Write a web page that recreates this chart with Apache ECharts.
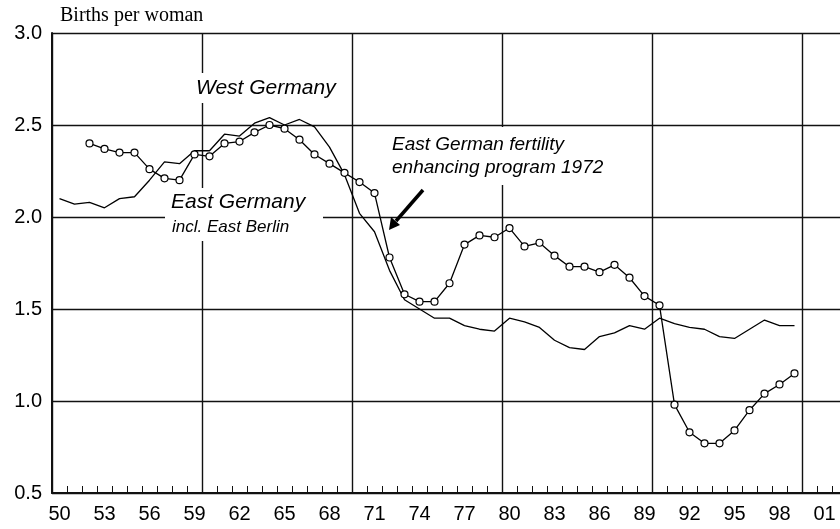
<!DOCTYPE html>
<html>
<head>
<meta charset="utf-8">
<script src="https://cdn.jsdelivr.net/npm/echarts@6/dist/echarts.min.js"></script>
<style>
  html, body { margin: 0; padding: 0; background: #fff; }
  #chart { width: 840px; height: 529px; }
</style>
</head>
<body>
<div id="chart"></div>
<script>
const years = ['1950','1951','1952','1953','1954','1955','1956','1957','1958','1959',
  '1960','1961','1962','1963','1964','1965','1966','1967','1968','1969',
  '1970','1971','1972','1973','1974','1975','1976','1977','1978','1979',
  '1980','1981','1982','1983','1984','1985','1986','1987','1988','1989',
  '1990','1991','1992','1993','1994','1995','1996','1997','1998','1999',
  '2000','2001','2002'];

// West Germany, 1950-1999
const westValues = [2.10, 2.07, 2.08, 2.05, 2.10, 2.11, 2.20, 2.30, 2.29, 2.36,
  2.36, 2.45, 2.44, 2.51, 2.54, 2.50, 2.53, 2.49, 2.38, 2.23,
  2.02, 1.92, 1.71, 1.55, 1.50, 1.45, 1.45, 1.41, 1.39, 1.38,
  1.45, 1.43, 1.40, 1.33, 1.29, 1.28, 1.35, 1.37, 1.41, 1.39,
  1.45, 1.42, 1.40, 1.39, 1.35, 1.34, 1.39, 1.44, 1.41, 1.41];

// East Germany incl. East Berlin, 1952-1999
const eastStart = 2;
const eastValues = [2.40, 2.37, 2.35, 2.35, 2.26, 2.21, 2.20, 2.34,
  2.33, 2.40, 2.41, 2.46, 2.50, 2.48, 2.42, 2.34, 2.29, 2.24,
  2.19, 2.13, 1.78, 1.58, 1.54, 1.54, 1.64, 1.85, 1.90, 1.89,
  1.94, 1.84, 1.86, 1.79, 1.73, 1.73, 1.70, 1.74, 1.67, 1.57,
  1.52, 0.98, 0.83, 0.77, 0.77, 0.84, 0.95, 1.04, 1.09, 1.15];

const yTicks = [0.5, 1.0, 1.5, 2.0, 2.5, 3.0];

const eastData = eastValues.map((v, i) => [years[eastStart + i], v]);

const chart = echarts.init(document.getElementById('chart'));
const sans = 'Liberation Sans, Arial, Helvetica, sans-serif';
const ink = '#111';

const option = {
  backgroundColor: '#fff',
  animation: false,
  grid: { left: 52, top: 33, width: 795, height: 460, outerBoundsMode: 'none' },
  xAxis: {
    type: 'category',
    data: years,
    boundaryGap: true,
    axisLine: { lineStyle: { color: ink, width: 2 } },
    axisTick: { show: true, inside: true, length: 7, interval: 0, lineStyle: { color: ink, width: 1 } },
    axisLabel: {
      interval: 2, margin: 11, color: '#000', fontFamily: sans, fontSize: 20,
      formatter: v => v.slice(2)
    },
    splitLine: { show: true, interval: 9, lineStyle: { color: ink, width: 1.4 } }
  },
  yAxis: {
    type: 'value',
    min: yTicks[0],
    max: yTicks[yTicks.length - 1],
    interval: 0.5,
    axisLine: { show: true, lineStyle: { color: ink, width: 2 } },
    axisTick: { show: false },
    axisLabel: { margin: 10, color: '#000', fontFamily: sans, fontSize: 20, formatter: v => v.toFixed(1) },
    splitLine: { show: true, lineStyle: { color: ink, width: 1.4 } }
  },
  series: [
    {
      name: 'West Germany',
      type: 'line',
      data: westValues,
      symbol: 'none',
      lineStyle: { color: '#000', width: 1.3 },
      z: 3
    },
    {
      name: 'East Germany',
      type: 'line',
      data: eastData,
      symbol: 'circle',
      symbolSize: 7,
      itemStyle: { color: '#fff', borderColor: '#000', borderWidth: 1.2 },
      lineStyle: { color: '#000', width: 1.3 },
      z: 4
    }
  ],
  graphic: [
    { type: 'text', z: 5, style: { text: 'Births per woman', x: 60, y: 16, verticalAlign: 'middle',
      font: '20px "Liberation Serif", "Times New Roman", serif', fill: '#000' } },
    // white boxes behind the labels
    { type: 'rect', z: 1, shape: { x: 190, y: 73, width: 156, height: 30 }, style: { fill: '#fff' } },
    { type: 'rect', z: 1, shape: { x: 165, y: 188, width: 158, height: 53 }, style: { fill: '#fff' } },
    { type: 'rect', z: 1, shape: { x: 388, y: 127, width: 224, height: 58 }, style: { fill: '#fff' } },
    { type: 'text', z: 5, style: { text: 'West Germany', x: 196, y: 88, verticalAlign: 'middle',
      font: 'italic 21px ' + sans, fill: '#000' } },
    { type: 'text', z: 5, style: { text: 'East Germany', x: 171, y: 202, verticalAlign: 'middle',
      font: 'italic 21px ' + sans, fill: '#000' } },
    { type: 'text', z: 5, style: { text: 'incl. East Berlin', x: 172, y: 227, verticalAlign: 'middle',
      font: 'italic 17px ' + sans, fill: '#000' } },
    { type: 'text', z: 5, style: { text: 'East German fertility', x: 392, y: 145, verticalAlign: 'middle',
      font: 'italic 19px ' + sans, fill: '#000' } },
    { type: 'text', z: 5, style: { text: 'enhancing program 1972', x: 392, y: 168, verticalAlign: 'middle',
      font: 'italic 19px ' + sans, fill: '#000' } },
    // arrow to 1972
    { type: 'line', z: 5, shape: { x1: 423, y1: 190, x2: 396, y2: 221 }, style: { stroke: '#000', lineWidth: 3.5 } },
    { type: 'polygon', z: 5, shape: { points: [[389, 230], [400, 225], [391, 217]] }, style: { fill: '#000' } }
  ]
};

chart.setOption(option);
</script>
</body>
</html>
